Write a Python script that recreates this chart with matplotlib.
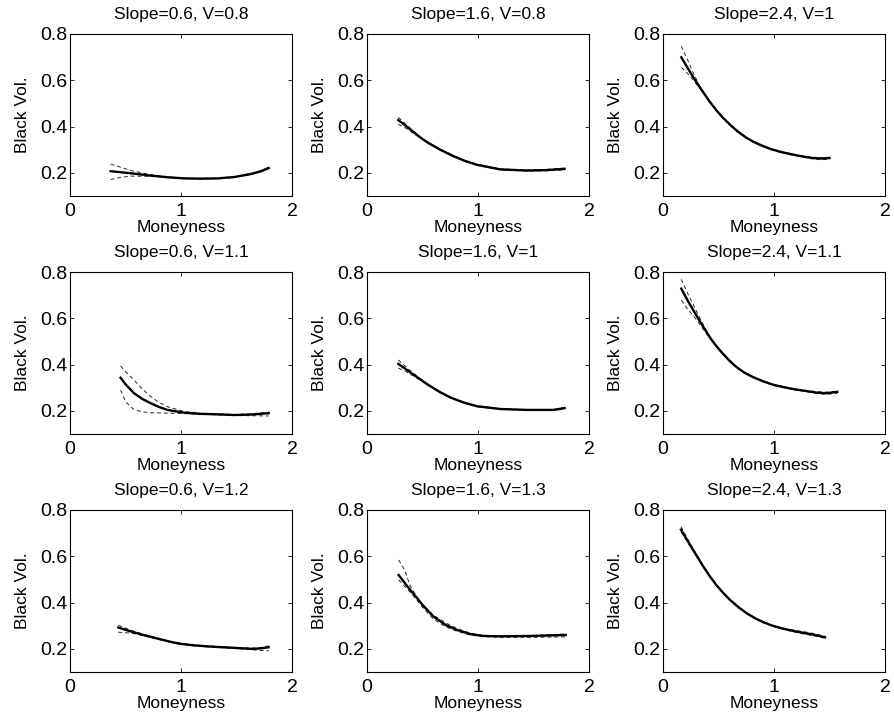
import numpy as np
import matplotlib.pyplot as plt

plt.rcParams['font.family'] = ['Liberation Sans', 'DejaVu Sans']

# panel titles (row-major)
titles = ["Slope=0.6, V=0.8", "Slope=1.6, V=0.8", "Slope=2.4, V=1",
          "Slope=0.6, V=1.1", "Slope=1.6, V=1", "Slope=2.4, V=1.1",
          "Slope=0.6, V=1.2", "Slope=1.6, V=1.3", "Slope=2.4, V=1.3"]

# moneyness grid per panel
x1 = [0.366, 0.45, 0.55, 0.73, 0.88, 1.03, 1.18, 1.33, 1.48, 1.63, 1.72, 1.79]
x2 = [0.282, 0.35, 0.42, 0.48, 0.54, 0.66, 0.78, 0.88, 0.99, 1.2, 1.44, 1.62, 1.78]
x3 = [0.165, 0.22, 0.27, 0.32, 0.36, 0.42, 0.48, 0.54, 0.6, 0.67, 0.75, 0.82,
      0.9, 0.97, 1.05, 1.12, 1.2, 1.28, 1.35, 1.43, 1.5]
x4 = [0.456, 0.5, 0.577, 0.65, 0.727, 0.8, 0.877, 1.03, 1.18, 1.33, 1.48, 1.63, 1.79]
x5 = [0.282, 0.35, 0.42, 0.48, 0.54, 0.65, 0.75, 0.87, 0.99, 1.2, 1.44, 1.68, 1.78]
x6 = [0.165, 0.23, 0.3, 0.36, 0.42, 0.48, 0.54, 0.6, 0.66, 0.73, 0.81, 0.9,
      0.99, 1.1, 1.2, 1.3, 1.38, 1.47, 1.57]
x7 = [0.435, 0.55, 0.66, 0.8, 0.9, 0.99, 1.12, 1.26, 1.45, 1.64, 1.72, 1.79]
x8 = [0.285, 0.34, 0.39, 0.45, 0.5, 0.6, 0.71, 0.81, 0.93, 1.04, 1.2, 1.5, 1.79]
x9 = [0.162, 0.23, 0.3, 0.36, 0.42, 0.48, 0.54, 0.6, 0.68, 0.76, 0.83, 0.9,
      0.98, 1.06, 1.13, 1.2, 1.28, 1.37, 1.46]

# fitted black vol (solid)
fit1 = [0.207, 0.203, 0.198, 0.188, 0.181, 0.176, 0.175, 0.176, 0.182, 0.195, 0.207, 0.221]
fit2 = [0.428, 0.403, 0.376, 0.353, 0.333, 0.3, 0.272, 0.252, 0.235, 0.215, 0.21, 0.212, 0.217]
fit3 = [0.699, 0.655, 0.615, 0.578, 0.55, 0.508, 0.471, 0.438, 0.41, 0.38, 0.352, 0.333,
        0.316, 0.303, 0.292, 0.284, 0.276, 0.269, 0.264, 0.262, 0.264]
fit4 = [0.343, 0.315, 0.276, 0.252, 0.233, 0.217, 0.204, 0.192, 0.187, 0.185, 0.182, 0.184, 0.19]
fit5 = [0.403, 0.38, 0.356, 0.336, 0.316, 0.283, 0.258, 0.236, 0.22, 0.208, 0.204, 0.204, 0.212]
fit6 = [0.728, 0.67, 0.613, 0.565, 0.519, 0.48, 0.447, 0.416, 0.39, 0.366, 0.346, 0.328,
        0.313, 0.301, 0.292, 0.285, 0.279, 0.276, 0.282]
fit7 = [0.292, 0.275, 0.26, 0.243, 0.231, 0.222, 0.215, 0.21, 0.205, 0.2, 0.202, 0.207]
fit8 = [0.519, 0.485, 0.454, 0.42, 0.39, 0.339, 0.303, 0.282, 0.264, 0.256, 0.254, 0.256, 0.26]
fit9 = [0.715, 0.66, 0.605, 0.558, 0.515, 0.476, 0.443, 0.413, 0.38, 0.352, 0.332, 0.316,
        0.301, 0.29, 0.282, 0.275, 0.268, 0.26, 0.25]

# upper dashed band
up1 = [0.238, 0.225, 0.21, 0.192, 0.183, 0.177, 0.176, 0.177, 0.184, 0.197, 0.209, 0.224]
up2 = [0.44, 0.41, 0.38, 0.356, 0.335, 0.302, 0.274, 0.254, 0.237, 0.217, 0.212, 0.215, 0.221]
up3 = [0.747, 0.69, 0.635, 0.585, 0.553, 0.51, 0.473, 0.44, 0.412, 0.382, 0.354, 0.335,
       0.318, 0.305, 0.294, 0.286, 0.278, 0.271, 0.267, 0.266, 0.268]
up4 = [0.394, 0.37, 0.333, 0.295, 0.262, 0.237, 0.218, 0.197, 0.189, 0.187, 0.184, 0.187, 0.194]
up5 = [0.42, 0.39, 0.362, 0.34, 0.318, 0.285, 0.26, 0.238, 0.222, 0.209, 0.205, 0.205, 0.215]
up6 = [0.768, 0.70, 0.632, 0.575, 0.523, 0.482, 0.449, 0.418, 0.392, 0.368, 0.348, 0.33,
       0.315, 0.303, 0.294, 0.287, 0.283, 0.281, 0.285]
up7 = [0.302, 0.28, 0.263, 0.245, 0.233, 0.224, 0.217, 0.212, 0.207, 0.203, 0.206, 0.213]
up8 = [0.584, 0.54, 0.47, 0.425, 0.39, 0.345, 0.312, 0.288, 0.268, 0.258, 0.256, 0.258, 0.264]
up9 = [0.728, 0.668, 0.609, 0.561, 0.517, 0.478, 0.445, 0.415, 0.382, 0.354, 0.334, 0.318,
       0.303, 0.292, 0.285, 0.279, 0.273, 0.265, 0.254]

# lower dashed band
lo1 = [0.171, 0.18, 0.186, 0.185, 0.18, 0.175, 0.174, 0.175, 0.18, 0.193, 0.205, 0.218]
lo2 = [0.41, 0.393, 0.37, 0.35, 0.331, 0.298, 0.27, 0.25, 0.233, 0.213, 0.208, 0.209, 0.213]
lo3 = [0.656, 0.63, 0.603, 0.572, 0.547, 0.506, 0.469, 0.436, 0.408, 0.378, 0.35, 0.331,
       0.314, 0.301, 0.29, 0.282, 0.274, 0.266, 0.26, 0.257, 0.259]
lo4 = [0.29, 0.24, 0.205, 0.196, 0.192, 0.191, 0.19, 0.188, 0.185, 0.183, 0.18, 0.179, 0.178]
lo5 = [0.385, 0.37, 0.35, 0.332, 0.314, 0.281, 0.256, 0.234, 0.218, 0.207, 0.203, 0.202, 0.208]
lo6 = [0.678, 0.635, 0.595, 0.555, 0.515, 0.478, 0.445, 0.414, 0.388, 0.364, 0.344, 0.326,
       0.311, 0.299, 0.29, 0.282, 0.275, 0.271, 0.276]
lo7 = [0.272, 0.268, 0.257, 0.241, 0.229, 0.22, 0.213, 0.208, 0.203, 0.196, 0.193, 0.192]
lo8 = [0.498, 0.47, 0.445, 0.41, 0.38, 0.328, 0.295, 0.276, 0.26, 0.253, 0.25, 0.25, 0.252]
lo9 = [0.705, 0.654, 0.602, 0.556, 0.513, 0.474, 0.441, 0.411, 0.378, 0.35, 0.33, 0.314,
       0.299, 0.288, 0.279, 0.271, 0.263, 0.255, 0.246]

xs = [x1, x2, x3, x4, x5, x6, x7, x8, x9]
fits = [fit1, fit2, fit3, fit4, fit5, fit6, fit7, fit8, fit9]
ups = [up1, up2, up3, up4, up5, up6, up7, up8, up9]
los = [lo1, lo2, lo3, lo4, lo5, lo6, lo7, lo8, lo9]

W, H = 894, 723
fig = plt.figure(figsize=(W / 100, H / 100), dpi=100)

# axes boxes in pixels (matlab subplot layout)
lefts = [70, 367, 663]
tops = [34, 272, 510]
aw, ah = 222, 162

for i in range(9):
    r, c = divmod(i, 3)
    ax = fig.add_axes([lefts[c] / W, 1 - (tops[r] + ah) / H, aw / W, ah / H])
    ax.plot(xs[i], ups[i], '--', color='0.15', lw=0.7, dashes=(4, 3))
    ax.plot(xs[i], los[i], '--', color='0.15', lw=0.7, dashes=(4, 3))
    ax.plot(xs[i], fits[i], 'k-', lw=1.7)
    ax.set_xlim(0, 2)
    ax.set_ylim(0.1, 0.8)
    ax.set_xticks([0, 1, 2])
    ax.set_yticks([0.2, 0.4, 0.6, 0.8])
    ax.tick_params(direction='in', length=3, width=0.6, top=True, right=True,
                   labelsize=14)
    ax.tick_params(axis='x', pad=5)
    ax.tick_params(axis='y', pad=2)
    for s in ax.spines.values():
        s.set_linewidth(0.8)
    ax.set_title(titles[i], fontsize=12.5, pad=11)
    ax.set_xlabel("Moneyness", fontsize=12.5, labelpad=0)
    ax.set_ylabel("Black Vol.", fontsize=12.5, labelpad=7)

fig.savefig("out.png", dpi=100)
